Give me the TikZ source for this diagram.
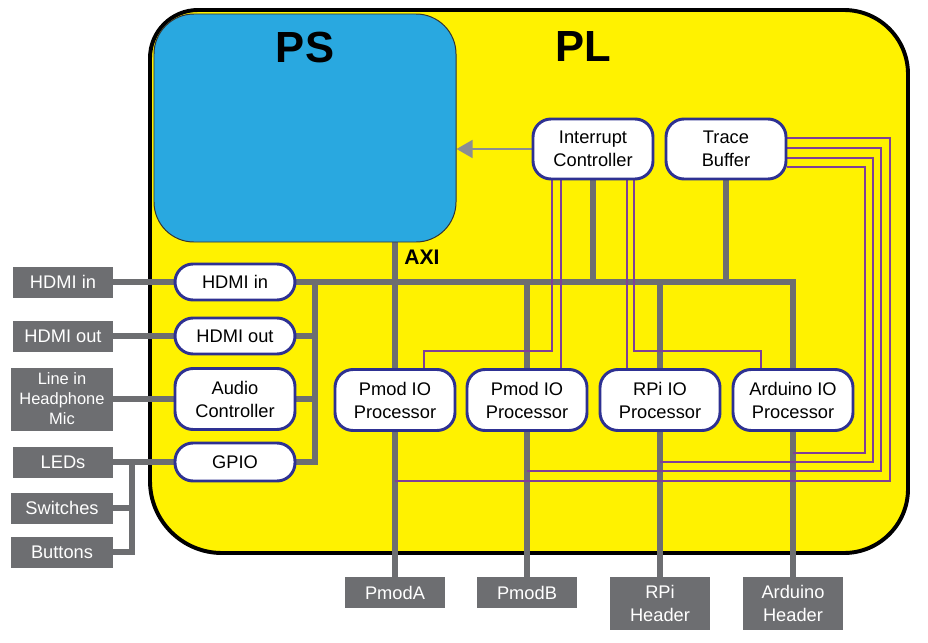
\documentclass[tikz,border=0pt]{standalone}
\usepackage{fontspec}
\setmainfont{Liberation Sans}
\usetikzlibrary{positioning,arrows.meta,calc,backgrounds}

\definecolor{plyellow}{HTML}{FFF200}
\definecolor{psblue}{HTML}{29A8E0}
\definecolor{navy}{HTML}{2E3192}
\definecolor{portgray}{HTML}{6D6E71}
\definecolor{arrowgray}{HTML}{8C8E91}
\definecolor{irqpurple}{HTML}{7F3F98}

\begin{document}
\begin{tikzpicture}[
        x=0.25mm, y=-0.25mm,
        font=\fontsize{13}{16.4}\selectfont,
        >={Triangle[length=4mm,width=4.4mm]},
        block/.style={
            rectangle,
            draw=navy,
            line width=2.1pt,
            fill=white,
            rounded corners=4.5mm,
            minimum width=30mm,
            align=center,
            inner sep=1pt
        },
        port/.style={
            rectangle,
            fill=portgray,
            text=white,
            minimum width=25mm,
            minimum height=7.75mm,
            align=center,
            inner sep=1pt
        },
        bus/.style={draw=portgray, line width=3.6pt},
        irq/.style={draw=irqpurple, line width=0.9pt},
        req/.style={->, draw=arrowgray, line width=2pt},
        bigtitle/.style={font=\fontsize{31}{36}\selectfont\bfseries},
    ]

        \def\colA{395}
        \def\colB{527}
        \def\colC{660}
        \def\colD{793}
        \def\busy{282}
        \def\procy{400}
        \def\hdry{577}

        \useasboundingbox (0,0) rectangle (928,642);

        % PL fabric
        \begin{scope}[on background layer]
            \draw[fill=plyellow, line width=2.8pt] (530,10) [rounded corners=16mm] -| (908,300)
                |- (530,553) [rounded corners=18mm] -| (150,300) [rounded corners=12mm] |- (540,10);
        \end{scope}
        \node[bigtitle] (pltitle) at (583,47) {PL};

        % PS
        \node[draw=black!80, line width=0.7pt, fill=psblue, rounded corners=10mm,
            minimum width=75.5mm, minimum height=57mm] (ps) at (305,128) {};
        \node[bigtitle] (pstitle) at (305,47) {PS};
        \node[font=\fontsize{15}{18}\selectfont\bfseries] (axi) at (422,257) {AXI};

        % left side blocks
        \node[block, minimum height=9mm] (hdmiin) at (235,\busy) {HDMI in};
        \node[block, minimum height=9mm] (hdmiout) at (235,336) {HDMI out};
        \node[block, minimum height=15.25mm] (audio) at (235,399) {Audio\\Controller};
        \node[block, minimum height=9.5mm] (gpio) at (235,462) {GPIO};

        \node[port] (hdmiinx) at (63,\busy) {HDMI in};
        \node[port] (hdmioutx) at (63,336) {HDMI out};
        \node[port, minimum width=25.5mm, minimum height=15.75mm,
            font=\fontsize{11.7}{14.2}\selectfont] (audiox) at (62,399) {Line in\\Headphone\\Mic};
        \node[port] (leds) at (63,462) {LEDs};
        \node[port, minimum width=25.5mm] (switches) at (62,508) {Switches};
        \node[port, minimum width=25.5mm] (buttons) at (62,552) {Buttons};

        % top blocks
        \node[block, minimum height=15mm] (intc) at (593,149) {Interrupt\\Controller};
        \node[block, minimum height=15mm] (trace) at (726,149) {Trace\\Buffer};

        % IO processors and headers
        \foreach \x/\nm/\txt/\hnm/\htxt/\hh in {
            \colA/pio1/{Pmod IO\\Processor}/pmoda/PmodA/7.75mm,
            \colB/pio2/{Pmod IO\\Processor}/pmodb/PmodB/7.75mm,
            \colC/rpiio/{RPi IO\\Processor}/rpihdr/{RPi\\Header}/13.25mm,
            \colD/ardio/{Arduino IO\\Processor}/ardhdr/{Arduino\\Header}/13.25mm
        }{
            \node[block, minimum height=15.25mm] (\nm) at (\x,\procy) {\txt};
            \node[port, anchor=north, minimum height=\hh] (\hnm) at (\x,\hdry) {\htxt};
            \begin{scope}[on background layer]
                \draw[bus] (\nm) -- (\hnm);
            \end{scope}
        }

        \begin{scope}[on background layer]
            % AXI bus
            \draw[bus] (hdmiin) -- (hdmiin -| ardio) -- (ardio);
            \draw[bus] (ps.south -| pio1) -- (pio1);
            \draw[bus] (intc) -- (intc |- hdmiin);
            \draw[bus] (trace) -- (trace |- hdmiin);
            \draw[bus] (pio2) -- (pio2 |- hdmiin);
            \draw[bus] (rpiio) -- (rpiio |- hdmiin);
            \coordinate (lbus) at (315,\busy);
            \draw[bus] (gpio) -| (lbus);
            \draw[bus] (hdmiout) -- (hdmiout -| lbus);
            \draw[bus] (audio) -- (audio -| lbus);

            % board connectors
            \draw[bus] (hdmiinx) -- (hdmiin);
            \draw[bus] (hdmioutx) -- (hdmiout);
            \draw[bus] (audiox) -- (audio);
            \draw[bus] (leds) -- (gpio);
            \coordinate (swjoin) at (132,462);
            \draw[bus] (switches) -- (switches -| swjoin);
            \draw[bus] (buttons) -| (swjoin);

            % interrupts
            \draw[req] (intc) -- (intc -| ps.east);
            \draw[irq] ($(intc.south)+(-41,0)$) |- ($(pio1.north)+(29,-17)$) -- ($(pio1.north)+(29,0)$);
            \draw[irq] ($(intc.south)+(-32,0)$) -- ($(pio2.north)+(34,0)$);
            \draw[irq] ($(intc.south)+(34,0)$) -- ($(rpiio.north)+(-33,0)$);
            \draw[irq] ($(intc.south)+(41,0)$) |- ($(ardio.north)+(-32,-17)$) -- ($(ardio.north)+(-32,0)$);

            % trace taps
            \coordinate (t1) at (890,481);
            \coordinate (t2) at (881,471);
            \coordinate (t3) at (873,462);
            \coordinate (t4) at (865,453);
            \draw[irq] ($(trace.east)+(0,-11)$) -| (t1) -- (t1 -| pio1);
            \draw[irq] ($(trace.east)+(0,-1)$) -| (t2) -- (t2 -| pio2);
            \draw[irq] ($(trace.east)+(0,9)$) -| (t3) -- (t3 -| rpiio);
            \draw[irq] ($(trace.east)+(0,18)$) -| (t4) -- (t4 -| ardio);
        \end{scope}

    \end{tikzpicture}
\end{document}
